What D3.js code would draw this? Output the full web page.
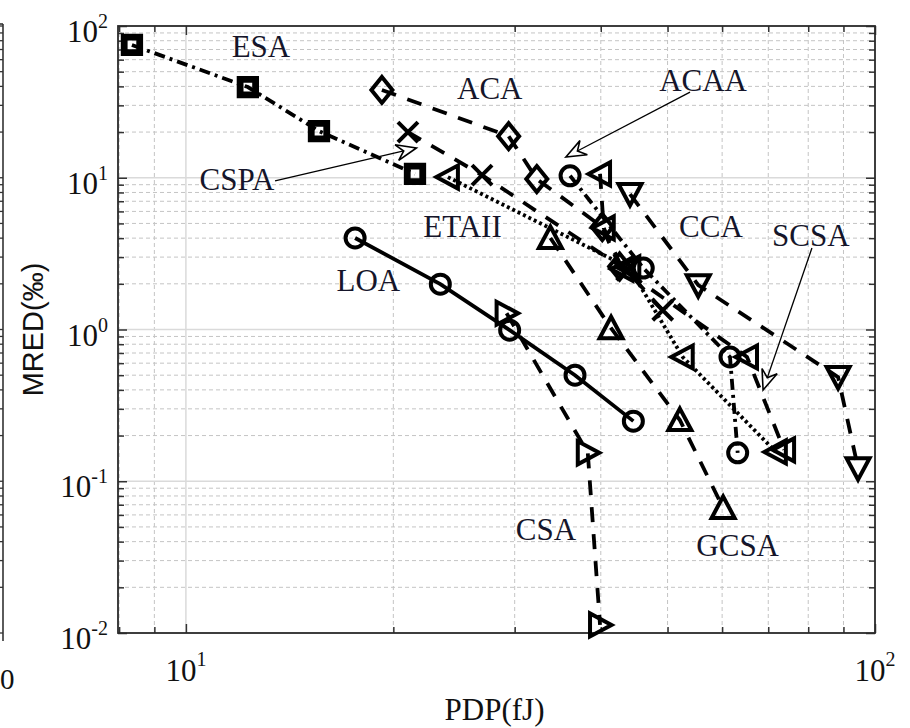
<!DOCTYPE html>
<html><head><meta charset="utf-8">
<script src="https://cdn.jsdelivr.net/npm/d3@7"></script>
<style>body{margin:0;background:#fff}svg{display:block}</style>
</head><body><svg id="c" width="910" height="728"></svg>
<script>
// ---------------- data (PDP in fJ, MRED in ‰) ----------------
const esaX   = [8.35, 12.3, 15.6, 21.5];
const esaY   = [75, 39.6, 20.3, 10.6];
const acaX   = [19.25, 29.4, 32.3, 40.2, 42.6];
const acaY   = [37.9, 18.8, 9.8, 4.74, 2.6];
const acaaX  = [36.1, 46.1, 61.6, 63.2];
const acaaY  = [10.3, 2.54, 0.659, 0.154];
const cspaX  = [21.0, 26.9, 43.6, 49.2];
const cspaY  = [20.0, 10.4, 2.45, 1.34];
const etaiiX = [24.0, 44.0, 52.6, 71.8];
const etaiiY = [10.1, 2.55, 0.659, 0.156];
const scsaX  = [39.9, 40.4, 43.0, 65.2, 73.8];
const scsaY  = [10.6, 4.67, 2.5, 0.659, 0.161];
const ccaX   = [44.1, 55.4, 88.4, 94.5];
const ccaY   = [7.81, 1.96, 0.486, 0.122];
const loaX   = [17.6, 23.4, 29.5, 36.7, 44.6];
const loaY   = [4.01, 1.99, 0.99, 0.50, 0.249];
const gcsaX  = [33.8, 41.4, 52.1, 60.2];
const gcsaY  = [4.01, 1.02, 0.253, 0.0667];
const csaX   = [29.2, 38.3, 39.9];
const csaY   = [1.28, 0.154, 0.0113];

const seriesNames = ["ESA","ACA","ACAA","CSPA","ETAII","SCSA","CCA","LOA","GCSA","CSA"];
const xTickLabels = ["1","2"];             // exponents of 10 on x
const yTickLabels = ["-2","-1","0","1","2"]; // exponents of 10 on y
const xTitle = "PDP(fJ)";
const yTitle = "MRED(‰)";

// label anchors (data coords) and arrows
const labelText = ["ESA","ACA","ACAA","CSPA","ETAII","LOA","CCA","SCSA","CSA","GCSA"];
const labelX = [12.85, 27.6, 56.3, 11.86, 25.2, 18.4, 57.8, 80.7, 33.3, 63.2];
const labelY = [62.5, 33.0, 37.3, 8.31, 4.07, 1.79, 4.07, 3.55, 0.041, 0.0322];
const arrowFromX = [13.47, 53.9, 81.0];
const arrowFromY = [9.52, 36.7, 3.44];
const arrowToX   = [21.6, 35.6, 68.8];
const arrowToY   = [15.7, 13.7, 0.399];

// ---------------- layout ----------------
const L = 118, R = 875, T = 26, B = 633;
const svg = d3.select("#c");
const x = d3.scaleLog().domain([7.97, 100]).range([L, R]);
const y = d3.scaleLog().domain([0.01, 100]).range([B, T]);

const xMajor = [10, 100];
const xMinor = [];
for (let e = 0; e <= 1; e++) for (let m = 2; m <= 9; m++) { const v = m * 10 ** e; if (v > 7.97 && v < 100) xMinor.push(v); }
const yMajor = [0.01, 0.1, 1, 10, 100];
const yMinor = [];
for (let e = -2; e <= 1; e++) for (let m = 2; m <= 9; m++) yMinor.push(+(m * 10 ** e).toPrecision(3));

const serif = "'Liberation Serif','Times New Roman',serif";
const sans = "'Liberation Sans',Arial,sans-serif";

// ---------------- partial left panel (cropped neighbour) ----------------
const lp = svg.append("g");
lp.append("line").attr("x1", 3).attr("x2", 3).attr("y1", 24).attr("y2", 641)
  .attr("stroke", "#333").attr("stroke-width", 1.6);
lp.append("line").attr("x1", 0).attr("x2", 3).attr("y1", 24).attr("y2", 24)
  .attr("stroke", "#333").attr("stroke-width", 1.6);
lp.selectAll("line.lt").data(yMinor.concat(yMajor)).enter().append("line")
  .attr("x1", 0).attr("x2", 3).attr("y1", d => y(d)).attr("y2", d => y(d))
  .attr("stroke", "#333").attr("stroke-width", 1.3);
lp.append("text").attr("x", 0).attr("y", 689).attr("font-family", serif)
  .attr("font-size", 29).attr("fill", "#111").text("0");

// ---------------- grid ----------------
const grid = svg.append("g");
grid.selectAll("line.gym").data(yMinor).enter().append("line")
  .attr("x1", L).attr("x2", R).attr("y1", d => y(d)).attr("y2", d => y(d))
  .attr("stroke", "#c4c4c4").attr("stroke-width", 1).attr("stroke-dasharray", "4,3");
grid.selectAll("line.gxm").data(xMinor).enter().append("line")
  .attr("y1", T).attr("y2", B).attr("x1", d => x(d)).attr("x2", d => x(d))
  .attr("stroke", "#c4c4c4").attr("stroke-width", 1).attr("stroke-dasharray", "4,3");
grid.selectAll("line.gyM").data(yMajor.filter(d => d > 0.01 && d < 100)).enter().append("line")
  .attr("x1", L).attr("x2", R).attr("y1", d => y(d)).attr("y2", d => y(d))
  .attr("stroke", "#dadada").attr("stroke-width", 1.5);
grid.selectAll("line.gxM").data(xMajor.filter(d => d < 100)).enter().append("line")
  .attr("y1", T).attr("y2", B).attr("x1", d => x(d)).attr("x2", d => x(d))
  .attr("stroke", "#dadada").attr("stroke-width", 1.5);

// ---------------- axes ticks (inside, all four sides) ----------------
function styleAxis(g) {
  g.select(".domain").remove();
  g.selectAll(".tick line").attr("stroke", "#333").attr("stroke-width", 1.5);
  g.selectAll(".tick text").remove();
}
[[d3.axisBottom, B], [d3.axisTop, T]].forEach(([fn, pos]) => {
  svg.append("g").attr("transform", `translate(0,${pos})`)
    .call(fn(x).tickValues(xMajor).tickSize(-9).tickFormat("")).call(styleAxis);
  svg.append("g").attr("transform", `translate(0,${pos})`)
    .call(fn(x).tickValues(xMinor).tickSize(-6).tickFormat("")).call(styleAxis);
});
[[d3.axisLeft, L], [d3.axisRight, R]].forEach(([fn, pos]) => {
  svg.append("g").attr("transform", `translate(${pos},0)`)
    .call(fn(y).tickValues(yMajor).tickSize(-9).tickFormat("")).call(styleAxis);
  svg.append("g").attr("transform", `translate(${pos},0)`)
    .call(fn(y).tickValues(yMinor).tickSize(-6).tickFormat("")).call(styleAxis);
});

// frame
svg.append("rect").attr("x", L).attr("y", T).attr("width", R - L).attr("height", B - T)
  .attr("fill", "none").attr("stroke", "#2a2a2a").attr("stroke-width", 1.8);

// tick labels
xMajor.forEach((v, i) => {
  const t = svg.append("text").attr("x", x(v)).attr("y", B + 48)
    .attr("text-anchor", "middle").attr("font-family", serif).attr("font-size", 31).attr("fill", "#111");
  t.append("tspan").text("10");
  t.append("tspan").attr("dy", -15).attr("font-size", 20).text(xTickLabels[i]);
});
yMajor.forEach((v, i) => {
  const t = svg.append("text").attr("x", 108).attr("y", y(v) + 16)
    .attr("text-anchor", "end").attr("font-family", serif).attr("font-size", 31).attr("fill", "#111");
  t.append("tspan").text("10");
  t.append("tspan").attr("dy", -14).attr("font-size", 20).text(yTickLabels[i]);
});

// axis titles
svg.append("text").attr("x", (L + R) / 2 - 2).attr("y", 720).attr("text-anchor", "middle")
  .attr("font-family", serif).attr("font-size", 31).attr("fill", "#111").text(xTitle);
svg.append("text").attr("transform", `translate(43,${y(1)}) rotate(-90)`).attr("text-anchor", "middle")
  .attr("font-family", sans).attr("font-size", 29).attr("fill", "#111").text(yTitle);

// ---------------- series ----------------
const DASH = "15,12", DASHDOT = "11,5,3,5", DOT = "3,3";
const markerPath = {
  square: "M-7.75,-7.75H7.75V7.75H-7.75Z",
  circle: "M9.5,0A9.5,9.5 0 1,1 -9.5,0A9.5,9.5 0 1,1 9.5,0Z",
  diamond: "M0,-13L10.5,0L0,13L-10.5,0Z",
  x: "M-10,-10L10,10M-10,10L10,-10",
  up: "M0,-11.5L11.5,10L-11.5,10Z",
  down: "M0,11.5L11.5,-10L-11.5,-10Z",
  left: "M-11.5,0L10,-11.5L10,11.5Z",
  right: "M11.5,0L-10,-11.5L-10,11.5Z"
};
const series = [
  { name: seriesNames[0], xs: esaX,   ys: esaY,   dash: DASHDOT, m: "square", mw: 6.8 },
  { name: seriesNames[1], xs: acaX,   ys: acaY,   dash: DASH,    m: "diamond" },
  { name: seriesNames[2], xs: acaaX,  ys: acaaY,  dash: DASHDOT, m: "circle" },
  { name: seriesNames[3], xs: cspaX,  ys: cspaY,  dash: DASH,    m: "x" },
  { name: seriesNames[4], xs: etaiiX, ys: etaiiY, dash: DOT,     m: "left" },
  { name: seriesNames[5], xs: scsaX,  ys: scsaY,  dash: DASH,    m: "left" },
  { name: seriesNames[6], xs: ccaX,   ys: ccaY,   dash: DASH,    m: "down" },
  { name: seriesNames[7], xs: loaX,   ys: loaY,   dash: null,    m: "circle" },
  { name: seriesNames[8], xs: gcsaX,  ys: gcsaY,  dash: DASH,    m: "up" },
  { name: seriesNames[9], xs: csaX,   ys: csaY,   dash: DASH,    m: "right" }
];
const line = d3.line().x(d => x(d[0])).y(d => y(d[1]));
series.forEach(s => {
  const pts = s.xs.map((v, i) => [v, s.ys[i]]);
  const g = svg.append("g").attr("class", "series");
  g.append("path").attr("d", line(pts)).attr("fill", "none").attr("stroke", "#000")
    .attr("stroke-width", 3.8).attr("stroke-dasharray", s.dash);
  g.selectAll("path.mk").data(pts).enter().append("path")
    .attr("transform", d => `translate(${x(d[0])},${y(d[1])})`)
    .attr("d", markerPath[s.m]).attr("fill", "none").attr("stroke", "#000")
    .attr("stroke-width", s.mw || 4).attr("stroke-linejoin", "miter");
});

// ---------------- annotations ----------------
labelText.forEach((t, i) => {
  svg.append("text").attr("x", x(labelX[i])).attr("y", y(labelY[i])).attr("text-anchor", "middle")
    .attr("font-family", serif).attr("font-size", 31).attr("fill", "#15152a").text(t);
});
arrowFromX.forEach((v, i) => {
  const x1 = x(v), y1 = y(arrowFromY[i]), x2 = x(arrowToX[i]), y2 = y(arrowToY[i]);
  const a = Math.atan2(y2 - y1, x2 - x1), ux = Math.cos(a), uy = Math.sin(a);
  const hl = 20, hw = 8, notch = 13;
  const bx = x2 - ux * hl, by = y2 - uy * hl;
  const nx = x2 - ux * notch, ny = y2 - uy * notch;
  svg.append("line").attr("x1", x1).attr("y1", y1).attr("x2", nx).attr("y2", ny)
    .attr("stroke", "#000").attr("stroke-width", 1.3);
  svg.append("path")
    .attr("d", `M${x2},${y2}L${bx - uy * hw},${by + ux * hw}L${nx},${ny}L${bx + uy * hw},${by - ux * hw}Z`)
    .attr("fill", "none").attr("stroke", "#000").attr("stroke-width", 1.6).attr("stroke-linejoin", "miter");
});
</script></body></html>
